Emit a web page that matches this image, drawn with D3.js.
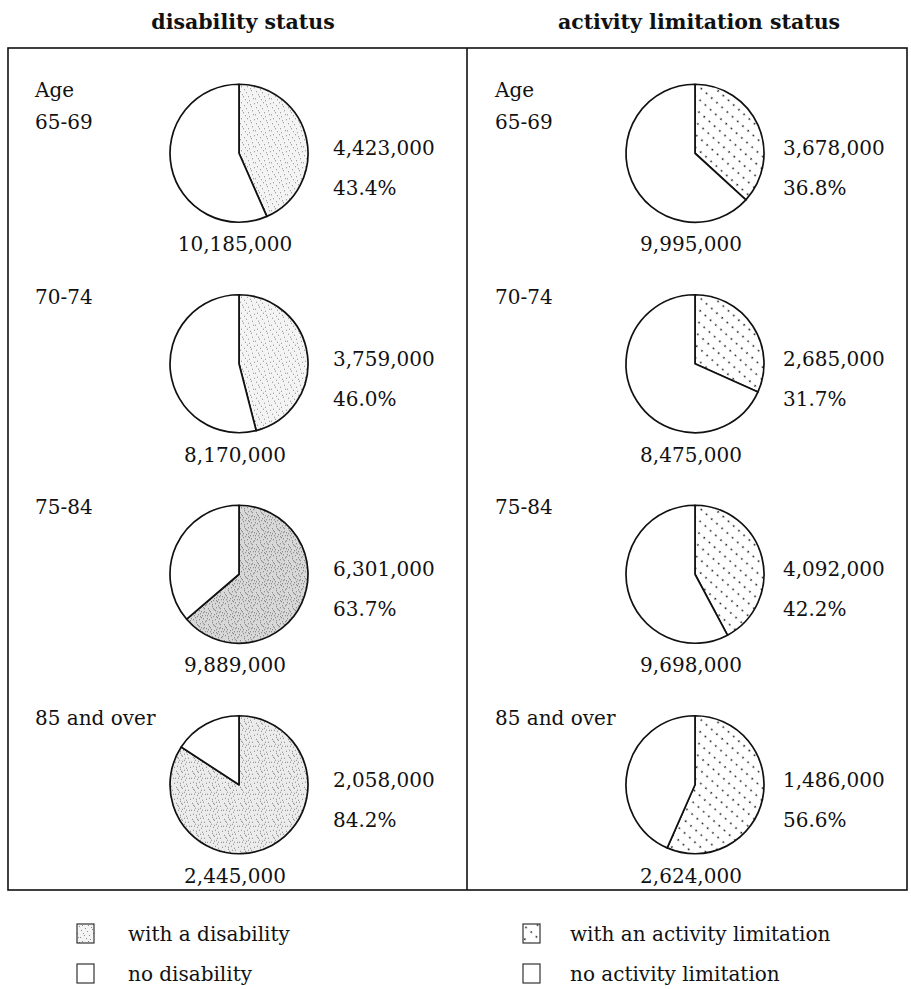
<!DOCTYPE html>
<html><head><meta charset="utf-8">
<script src="https://cdn.jsdelivr.net/npm/d3@7/dist/d3.min.js"></script>
<style>body{margin:0;background:#fff}svg{display:block}</style>
</head><body><svg id="c" width="911" height="989"></svg>
<script>
// ---- data ----
const ageGroups = ["65-69", "70-74", "75-84", "85 and over"];
const disabilityWith = [4423000, 3759000, 6301000, 2058000];
const disabilityPct = [43.4, 46.0, 63.7, 84.2];
const disabilityTotal = [10185000, 8170000, 9889000, 2445000];
const activityWith = [3678000, 2685000, 4092000, 1486000];
const activityPct = [36.8, 31.7, 42.2, 56.6];
const activityTotal = [9995000, 8475000, 9698000, 2624000];
const panelTitles = ["disability status", "activity limitation status"];
const legendLeft = ["with a disability", "no disability"];
const legendRight = ["with an activity limitation", "no activity limitation"];
const ageHeader = "Age";

// ---- layout ----
const svg = d3.select("#c");
const FONT = "'DejaVu Serif', serif";
const fmt = d3.format(",");
const pctFmt = d => d.toFixed(1) + "%";
const R = 69;
const frameTop = 48, frameBottom = 890, frameLeft = 8, frameMid = 467, frameRight = 907;
const y = d3.scaleBand().domain(ageGroups).range([frameTop, frameBottom]);
const panels = [
  {title: panelTitles[0], titleX: 243, cx: 239, labX: 333, ageX: 35,
   withV: disabilityWith, pct: disabilityPct, tot: disabilityTotal,
   fill: i => i === 2 ? "url(#stipDense)" : (i === 3 ? "url(#stipMid)" : "url(#stipLight)")},
  {title: panelTitles[1], titleX: 699, cx: 695, labX: 783, ageX: 495,
   withV: activityWith, pct: activityPct, tot: activityTotal, fill: () => "url(#dots)"}
];

// ---- patterns ----
const defs = svg.append("defs");
const lightDots = [[1,2],[4,7],[7,3],[10,11],[13,5],[2,13],[6,10],[12,1],[9,7],[15,14],[3,5],[11,15],[14,9],[5,0],[8,13],[0,9]];
const extraDots = [[2,4],[3,9],[5,14],[6,2],[7,8],[9,1],[10,5],[11,9],[12,12],[13,2],[14,15],[15,6],[0,12],[1,7],[4,11],[8,4],[9,10],[12,6]];
function stipple(id, bg, dots, col) {
  const p = defs.append("pattern").attr("id",id).attr("patternUnits","userSpaceOnUse").attr("width",16).attr("height",16);
  p.append("rect").attr("width",16).attr("height",16).attr("fill",bg);
  p.selectAll("rect.d").data(dots).join("rect").attr("class","d")
    .attr("x",d=>d[0]).attr("y",d=>d[1]).attr("width",1).attr("height",1).attr("fill",col);
}
stipple("stipLight", "#f4f4f4", lightDots, "#8a8a8a");
stipple("stipMid", "#ececec", lightDots.concat(extraDots.slice(0,8)), "#838383");
stipple("stipDense", "#d8d8d8", lightDots.concat(extraDots), "#767676");
const pT = defs.append("pattern").attr("id","dots").attr("patternUnits","userSpaceOnUse")
  .attr("width",7).attr("height",9.5).attr("patternTransform","rotate(42)");
pT.append("rect").attr("width",7).attr("height",9.5).attr("fill","#fff");
pT.append("circle").attr("cx",3.5).attr("cy",4.75).attr("r",0.9).attr("fill","#1a1a1a");

// ---- titles ----
svg.selectAll("text.title").data(panels).join("text").attr("class","title")
  .attr("x",d=>d.titleX).attr("y",29).attr("text-anchor","middle")
  .attr("font-family",FONT).attr("font-weight","bold").attr("font-size",20.5).attr("fill","#111")
  .text(d=>d.title);

// ---- frame ----
svg.append("rect").attr("x",frameLeft).attr("y",frameTop).attr("width",frameRight-frameLeft).attr("height",frameBottom-frameTop)
  .attr("fill","none").attr("stroke","#111").attr("stroke-width",1.6);
svg.append("line").attr("x1",frameMid).attr("x2",frameMid).attr("y1",frameTop).attr("y2",frameBottom)
  .attr("stroke","#111").attr("stroke-width",1.6);

// ---- pies ----
const pie = d3.pie().sort(null).value(d=>d);
const arc = d3.arc().innerRadius(0).outerRadius(R);
panels.forEach((p) => {
  const g = svg.append("g");
  ageGroups.forEach((age, i) => {
    const cy = y(age) + y.bandwidth()/2;
    const arcs = pie([p.pct[i], 100 - p.pct[i]]);
    const pg = g.append("g").attr("transform",`translate(${p.cx},${cy})`);
    pg.selectAll("path").data(arcs).join("path")
      .attr("d",arc)
      .attr("fill",(d,j)=> j===0 ? p.fill(i) : "#fff")
      .attr("stroke","#111").attr("stroke-width",1.7).attr("stroke-linejoin","round");
    const t = (s, x, yy, anchor) => g.append("text").attr("x",x).attr("y",yy)
      .attr("text-anchor",anchor||"start").attr("font-family",FONT).attr("font-size",20).attr("fill","#111").text(s);
    t(fmt(p.withV[i]), p.labX, cy + 2);
    t(pctFmt(p.pct[i]), p.labX, cy + 42);
    t(fmt(p.tot[i]), p.cx - 4, cy + 98, "middle");
    if (i === 0) {
      t(ageHeader, p.ageX, cy - 56);
      t(age, p.ageX, cy - 24);
    } else {
      t(age, p.ageX, cy - 60);
    }
  });
});

// ---- legend ----
const legend = [
  {x: 77, tx: 128, items: legendLeft, fills: ["url(#stipLight)", "#fff"]},
  {x: 523, tx: 570, items: legendRight, fills: ["url(#dots)", "#fff"]}
];
legend.forEach(L => {
  L.items.forEach((s, k) => {
    const yy = 924 + k * 40;
    svg.append("rect").attr("x",L.x).attr("y",yy).attr("width",17).attr("height",19)
      .attr("fill",L.fills[k]).attr("stroke","#333").attr("stroke-width",1.2);
    svg.append("text").attr("x",L.tx).attr("y",yy + 17).attr("font-family",FONT).attr("font-size",20)
      .attr("fill","#111").text(s);
  });
});
</script></body></html>
